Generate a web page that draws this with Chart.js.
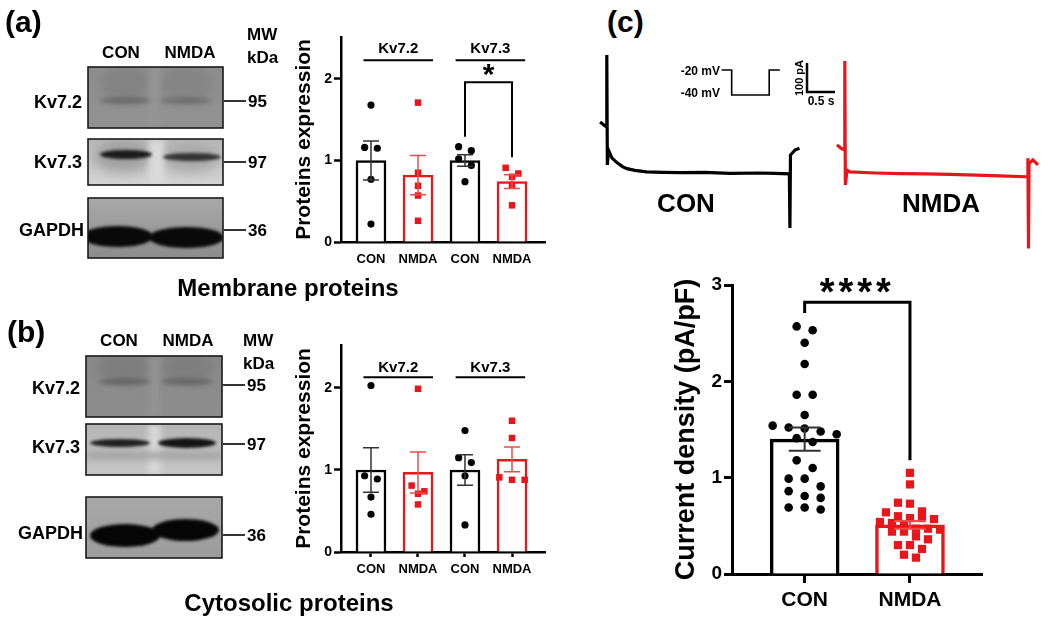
<!DOCTYPE html>
<html>
<head>
<meta charset="utf-8">
<script src="https://cdn.jsdelivr.net/npm/chart.js@4.4.0/dist/chart.umd.min.js"></script>
<style>
body { margin: 0; width: 1050px; height: 636px; overflow: hidden; position: relative; background: #fff;
  font-family: "Liberation Sans", Arial, sans-serif; font-weight: bold; color: #000; }
canvas { position: absolute; }
.t { position: absolute; white-space: nowrap; line-height: 1; }
</style>
</head>
<body>
<canvas id="blots" width="290" height="636" style="left:0;top:0"></canvas>
<canvas id="mem" width="275" height="255" style="left:280px;top:20px"></canvas>
<canvas id="cyt" width="275" height="260" style="left:280px;top:325px"></canvas>
<canvas id="traces" width="455" height="220" style="left:590px;top:40px"></canvas>
<canvas id="dens" width="360" height="375" style="left:640px;top:255px"></canvas>
<script>
// ---- data ----
var groups = ['CON', 'NMDA', 'CON', 'NMDA'];
var yTicksWb = [0, 1, 2];

// (a) membrane fraction, Kv7.2 then Kv7.3
var memMeans = [1.00, 0.82, 1.00, 0.74];
var memSem = [0.24, 0.24, 0.07, 0.085];
var memKv72Con = [1.68, 1.16, 1.15, 0.77, 0.22];
var memKv72Nmda = [1.71, 0.85, 0.69, 0.57, 0.26];
var memKv73Con = [1.17, 1.12, 1.02, 0.94, 0.74];
var memKv73Nmda = [0.91, 0.84, 0.80, 0.70, 0.45];

// (b) cytosolic fraction
var cytMeans = [1.00, 0.97, 1.00, 1.13];
var cytSem = [0.27, 0.25, 0.185, 0.15];
var cytKv72Con = [2.03, 0.93, 0.89, 0.67, 0.46];
var cytKv72Nmda = [1.99, 0.81, 0.74, 0.71, 0.58];
var cytKv73Con = [1.48, 1.15, 1.09, 0.93, 0.33];
var cytKv73Nmda = [1.60, 1.39, 0.91, 0.88, 0.88];

// (c) current density, pA/pF
var densGroups = ['CON', 'NMDA'];
var densTicks = [0, 1, 2, 3];
var densMeans = [1.40, 0.51];
var densSem = [0.12, 0.04];
var densCon = [2.57, 2.53, 2.40, 2.18, 1.86, 1.86, 1.65, 1.54, 1.52, 1.51, 1.48, 1.45, 1.41, 1.37,
  1.18, 1.10, 0.99, 0.99, 0.91, 0.86, 0.81, 0.79, 0.69, 0.69, 0.67];
var densNmda = [1.05, 0.93, 0.74, 0.73, 0.65, 0.64, 0.60, 0.58, 0.58, 0.57, 0.54, 0.53, 0.50,
  0.47, 0.47, 0.46, 0.44, 0.44, 0.39, 0.36, 0.30, 0.30, 0.26, 0.20, 0.17];

// (c) example traces: time (s), current (pA)
var conT = [0.18, 0.27, 0.30, 0.30, 0.31, 0.33, 0.39, 0.48, 0.58, 0.66, 0.80, 1.01, 1.30, 1.61, 2.05, 2.50, 3.04, 3.30, 3.56, 3.57, 3.58, 3.66, 3.74];
var conI = [176, 162, 159, 407, 28, 79, 52, 36, 22, 15, 9, 4, 2, 1, 2, -1, 0, -1, -3, -190, 62, 79, 85];
var nmdaT = [4.41, 4.48, 4.55, 4.55, 4.56, 4.59, 4.64, 5.10, 5.54, 6.00, 6.43, 6.90, 7.32, 7.80, 7.82, 7.82, 7.83, 7.84, 7.91, 8.00];
var nmdaI = [97, 86, 79, 386, -41, 10, 4, 0, -2, -3, -5, -7, -10, -13, -13, 51, -260, 33, 45, 28];
// voltage protocol: time (s), mV
var stepT = [2.35, 2.53, 2.53, 3.20, 3.20, 3.39];
var stepV = [-20, -20, -40, -40, -20, -20];
// scale bar: 0.5 s, 100 pA
var barT = [3.875, 3.875, 4.375];
var barI = [379, 279, 279];

// ---- drawing ----
var RED = '#e8161b';
var FONT = '"Liberation Sans", Arial, sans-serif';
Chart.defaults.font.family = FONT;

function zip(a, b) {
  return a.map(function (v, i) { return { x: v, y: b[i] }; });
}

// GraphPad-like scatter: points closer than gap share a row and spread evenly
function swarm(vals, gap, step) {
  var idx = vals.map(function (v, i) { return i; }).sort(function (a, b) { return vals[b] - vals[a]; });
  var off = vals.map(function () { return 0; });
  var row = [];
  function flush() {
    row.forEach(function (k, j) { off[k] = (j - (row.length - 1) / 2) * step; });
    row = [];
  }
  idx.forEach(function (k) {
    if (row.length && vals[row[0]] - vals[k] >= gap) flush();
    row.push(k);
  });
  flush();
  return off;
}

function extras(p) {
  return {
    id: 'extras',
    afterDatasetsDraw: function (chart) {
      var ctx = chart.ctx, x = chart.scales.x, y = chart.scales.y;
      ctx.save();
      p.means.forEach(function (m, i) {
        var px = x.getPixelForValue(i + 1);
        var top = y.getPixelForValue(m + p.sem[i]), bot = y.getPixelForValue(m - p.sem[i]);
        ctx.strokeStyle = p.groups[i] === 'CON' ? '#333' : '#ef4a4a';
        ctx.lineWidth = p.errLine;
        ctx.beginPath();
        ctx.moveTo(px, top); ctx.lineTo(px, bot);
        ctx.moveTo(px - p.cap, top); ctx.lineTo(px + p.cap, top);
        ctx.moveTo(px - p.cap, bot); ctx.lineTo(px + p.cap, bot);
        ctx.stroke();
      });
      ctx.fillStyle = '#000';
      ctx.textAlign = 'center';
      p.labels.forEach(function (l) {
        ctx.font = 'bold ' + l.size + 'px ' + FONT;
        ctx.letterSpacing = l.spacing || '0px';
        var m = ctx.measureText(l.text);
        ctx.fillText(l.text, x.getPixelForValue(l.x),
          y.getPixelForValue(l.y) + (m.actualBoundingBoxAscent - m.actualBoundingBoxDescent) / 2);
      });
      ctx.restore();
    }
  };
}

function barPanel(id, p) {
  var pos = p.groups.map(function (g, i) { return i + 1; });
  var col = p.groups.map(function (g) { return g === 'CON' ? '#000' : RED; });
  var ds = [{
    type: 'bar',
    data: p.means.map(function (m, i) { return { x: pos[i], y: m }; }),
    backgroundColor: '#fff', borderColor: col, borderWidth: p.barLine,
    borderSkipped: 'start', barThickness: p.barW, order: 3
  }];
  p.points.forEach(function (vals, i) {
    var con = p.groups[i] === 'CON';
    var off = swarm(vals, p.gap, con ? p.stepCon : p.stepNmda);
    ds.push({
      type: 'scatter',
      data: vals.map(function (v, k) { return { x: pos[i] + off[k], y: v }; }),
      pointStyle: con ? 'circle' : 'rect', pointRadius: con ? p.dot : p.sq,
      backgroundColor: col[i], borderWidth: 0, order: 2, clip: false
    });
  });
  p.lines.forEach(function (pts) {
    ds.push({ type: 'line', data: pts, borderColor: '#000', borderWidth: p.bracketLine,
      pointRadius: 0, fill: false, order: 1, clip: false });
  });
  return new Chart(document.getElementById(id), {
    type: 'bar',
    data: { datasets: ds },
    options: {
      responsive: false, animation: false, events: [],
      layout: { padding: p.pad },
      plugins: { legend: { display: false }, tooltip: { enabled: false } },
      scales: {
        x: {
          type: 'linear', min: p.xMin, max: p.xMax, offset: false,
          afterBuildTicks: function (s) { s.ticks = pos.map(function (v) { return { value: v }; }); },
          afterFit: function (s) { s.height = p.xH; },
          border: { color: '#000', width: p.axisLine },
          grid: { drawOnChartArea: false, offset: false, tickLength: p.xTick, tickColor: p.xTickColor, tickWidth: p.axisLine },
          ticks: { color: '#000', font: { size: p.xFont, weight: 'bold' }, padding: p.xPad, maxRotation: 0, autoSkip: false,
            callback: function (v) { return p.groups[Math.round(v) - 1]; } }
        },
        y: {
          min: 0, max: p.yMax,
          afterBuildTicks: function (s) { s.ticks = p.yTicks.map(function (v) { return { value: v }; }); },
          afterFit: function (s) { s.width = p.yW; },
          border: { color: '#000', width: p.axisLine },
          grid: { drawOnChartArea: false, tickLength: p.yTick, tickColor: '#000', tickWidth: p.axisLine },
          ticks: { color: '#000', font: { size: p.yFont, weight: 'bold' }, padding: 2 },
          title: { display: true, text: p.title, color: '#000', font: { size: p.titleFont, weight: 'bold' },
            padding: { top: p.titlePad, bottom: 0 } }
        }
      }
    },
    plugins: [extras(p)]
  });
}

var wbStyle = {
  groups: groups, yTicks: yTicksWb, title: 'Proteins expression',
  xMin: 0.362, xMax: 4.702, yW: 61, xH: 33, xFont: 13, xPad: 5, yFont: 14, yTick: 7,
  titleFont: 21, titlePad: 12, axisLine: 2.5, barLine: 2.5, barW: 30, bracketLine: 2,
  dot: 3.6, sq: 4.6, gap: 0.1, stepCon: 0.27, stepNmda: 0.27, errLine: 1.5, cap: 8
};

barPanel('mem', Object.assign({}, wbStyle, {
  means: memMeans, sem: memSem,
  points: [memKv72Con, memKv72Nmda, memKv73Con, memKv73Nmda],
  yMax: 2.515, pad: { top: 17, right: 10, left: 0, bottom: 0 },
  xTick: 5, xTickColor: 'rgba(0,0,0,0)',
  lines: [
    [{ x: 0.84, y: 2.23 }, { x: 2.32, y: 2.23 }],
    [{ x: 2.80, y: 2.23 }, { x: 4.28, y: 2.23 }],
    [{ x: 3, y: 1.29 }, { x: 3, y: 1.96 }, { x: 4, y: 1.96 }, { x: 4, y: 1.04 }]
  ],
  labels: [
    { text: 'Kv7.2', x: 1.58, y: 2.38, size: 15 },
    { text: 'Kv7.3', x: 3.54, y: 2.38, size: 15 },
    { text: '*', x: 3.5, y: 2.11, size: 30 }
  ]
}));

barPanel('cyt', Object.assign({}, wbStyle, {
  means: cytMeans, sem: cytSem,
  points: [cytKv72Con, cytKv72Nmda, cytKv73Con, cytKv73Nmda],
  yMax: 2.524, pad: { top: 20, right: 10, left: 0, bottom: 0 },
  xTick: 5, xTickColor: '#000',
  lines: [
    [{ x: 0.84, y: 2.13 }, { x: 2.32, y: 2.13 }],
    [{ x: 2.80, y: 2.13 }, { x: 4.28, y: 2.13 }]
  ],
  labels: [
    { text: 'Kv7.2', x: 1.58, y: 2.26, size: 15 },
    { text: 'Kv7.3', x: 3.54, y: 2.26, size: 15 }
  ]
}));

barPanel('dens', {
  groups: densGroups, yTicks: densTicks, title: 'Current density (pA/pF)',
  means: densMeans, sem: densSem, points: [densCon, densNmda],
  xMin: 0.31, xMax: 2.684, yMax: 3, yW: 92, xH: 56, pad: { top: 30, right: 18, left: 0, bottom: 0 },
  xFont: 21, xPad: 5, xTick: 9, xTickColor: '#000', yFont: 19, yTick: 8,
  titleFont: 27, titlePad: 30, axisLine: 3, barLine: 3.5, barW: 69, bracketLine: 3,
  dot: 4.3, sq: 5.8, gap: 0.095, stepCon: 0.152, stepNmda: 0.114, errLine: 2, cap: 16,
  lines: [[{ x: 1, y: 2.71 }, { x: 1, y: 2.82 }, { x: 2, y: 2.82 }, { x: 2, y: 1.18 }]],
  labels: [{ text: '****', x: 1.5, y: 2.99, size: 38, spacing: '4px' }]
});

new Chart(document.getElementById('traces'), {
  type: 'scatter',
  data: {
    datasets: [
      { data: zip(conT, conI), borderColor: '#000', borderWidth: 3.2 },
      { data: zip(nmdaT, nmdaI), borderColor: RED, borderWidth: 3.2 },
      { data: zip(stepT, stepV), borderColor: '#000', borderWidth: 1.6, yAxisID: 'v' },
      { data: zip(barT, barI), borderColor: '#000', borderWidth: 2.5 }
    ].map(function (d) {
      return Object.assign({ showLine: true, pointRadius: 0, clip: false, borderJoinStyle: 'miter' }, d);
    })
  },
  options: {
    responsive: false, animation: false, events: [],
    layout: { padding: 0 },
    plugins: { legend: { display: false }, tooltip: { enabled: false } },
    scales: {
      x: { type: 'linear', display: false, min: 0, max: 8.125 },
      y: { type: 'linear', display: false, min: -300, max: 458.6 },
      v: { type: 'linear', display: false, min: -172, max: 4 }
    }
  }
});

// western blot images
(function drawBlots() {
  var c = document.getElementById('blots').getContext('2d');
  function blob(x0, x1, y0, y1, col, blur) {
    c.save();
    c.filter = 'blur(' + blur + 'px)';
    c.fillStyle = col;
    c.beginPath();
    c.ellipse((x0 + x1) / 2, (y0 + y1) / 2, (x1 - x0) / 2, (y1 - y0) / 2, 0, 0, Math.PI * 2);
    c.fill();
    c.restore();
  }
  function strip(x0, x1, y0, y1, col, blur) {
    c.save();
    c.filter = 'blur(' + blur + 'px)';
    c.fillStyle = col;
    c.fillRect(x0, y0, x1 - x0, y1 - y0);
    c.restore();
  }
  function blot(x, y, w, h, top, bottom, paint) {
    c.save();
    c.beginPath(); c.rect(x, y, w, h); c.clip();
    var g = c.createLinearGradient(0, y, 0, y + h);
    g.addColorStop(0, top); g.addColorStop(1, bottom);
    c.fillStyle = g; c.fillRect(x, y, w, h);
    paint();
    c.restore();
    c.strokeStyle = '#1a1a1a'; c.lineWidth = 1.6;
    c.strokeRect(x, y, w, h);
  }
  function mw(x0, x1, ys) {
    c.strokeStyle = '#000'; c.lineWidth = 1.6;
    ys.forEach(function (y) { c.beginPath(); c.moveTo(x0, y); c.lineTo(x1, y); c.stroke(); });
  }

  // (a)
  blot(88, 67, 135, 61, '#8d8d8d', '#929292', function () {
    blob(100, 150, 66, 100, '#838383', 4); blob(160, 212, 66, 100, '#858585', 4);
    strip(150, 160, 67, 128, '#959595', 3);
    blob(100, 150, 97, 104, '#6b6b6b', 2); blob(160, 212, 97, 104, '#6f6f6f', 2);
  });
  blot(88, 139, 135, 46, '#b8b8b8', '#d4d4d4', function () {
    blob(94, 152, 140, 172, '#a0a0a0', 6); blob(160, 220, 143, 172, '#a8a8a8', 6);
    strip(149, 164, 139, 185, '#dadada', 3);
    blob(100, 152, 150, 159, '#1c1c1c', 1.5); blob(163, 221, 153, 161, '#353535', 1.5);
  });
  blot(88, 198, 135, 60, '#a9a9a9', '#8c8c8c', function () {
    blob(82, 153, 226, 247, '#0a0a0a', 1.5); blob(149, 224, 227, 248, '#0a0a0a', 1.5);
  });
  mw(224, 246, [101, 162, 230]);

  // (b)
  blot(86, 356, 136, 61, '#888888', '#8e8e8e', function () {
    blob(98, 150, 354, 381, '#7e7e7e', 4); blob(160, 213, 354, 381, '#7f7f7f', 4);
    strip(150, 160, 356, 417, '#939393', 3);
    blob(99, 150, 378, 385, '#666', 2); blob(161, 213, 378, 385, '#686868', 2);
  });
  blot(86, 424, 136, 51, '#b4b4b4', '#c6c6c6', function () {
    strip(148, 161, 424, 475, '#d6d6d6', 3);
    strip(86, 222, 452, 459, '#a2a2a2', 3);
    blob(90, 150, 439, 447, '#202020', 1.5); blob(158, 216, 438, 448, '#141414', 1.5);
  });
  blot(86, 497, 136, 61, '#a8a8a8', '#9c9c9c', function () {
    blob(90, 160, 524, 547, '#060606', 1.5); blob(152, 219, 519, 541, '#060606', 1.5);
  });
  mw(223, 245, [385, 444, 535]);
})();

// text labels
function txt(s, x, y, size, align, rot) {
  var d = document.createElement('div');
  d.className = 't';
  d.textContent = s;
  d.style.fontSize = size + 'px';
  d.style.left = x + 'px';
  d.style.top = y + 'px';
  var tx = align === 'center' ? '-50%' : align === 'right' ? '-100%' : '0';
  d.style.transform = 'translate(' + tx + ',-50%)' + (rot ? ' rotate(-90deg)' : '');
  document.body.appendChild(d);
}
txt('(a)', 5, 22, 30);
txt('CON', 121, 52, 17, 'center'); txt('NMDA', 190, 52, 17, 'center');
txt('MW', 247, 34, 17); txt('kDa', 247, 57, 17);
txt('Kv7.2', 82, 102, 18, 'right'); txt('Kv7.3', 82, 162, 18, 'right'); txt('GAPDH', 84, 230, 18, 'right');
txt('95', 248, 101, 17); txt('97', 248, 162, 17); txt('36', 248, 230, 17);
txt('Membrane proteins', 288, 288, 24, 'center');

txt('(b)', 7, 332, 30);
txt('CON', 119, 340, 17, 'center'); txt('NMDA', 188, 340, 17, 'center');
txt('MW', 243, 340, 17); txt('kDa', 243, 363, 17);
txt('Kv7.2', 80, 388, 18, 'right'); txt('Kv7.3', 80, 447, 18, 'right'); txt('GAPDH', 83, 533, 18, 'right');
txt('95', 247, 385, 17); txt('97', 247, 444, 17); txt('36', 247, 535, 17);
txt('Cytosolic proteins', 289, 603, 24, 'center');

txt('(c)', 607, 22, 30);
txt('-20 mV', 720, 71, 12, 'right'); txt('-40 mV', 720, 93, 12, 'right');
txt('100 pA', 799, 78, 11, 'center', true);
txt('0.5 s', 821, 101, 12, 'center');
txt('CON', 686, 203, 26, 'center'); txt('NMDA', 941, 203, 26, 'center');
</script>
</body>
</html>
